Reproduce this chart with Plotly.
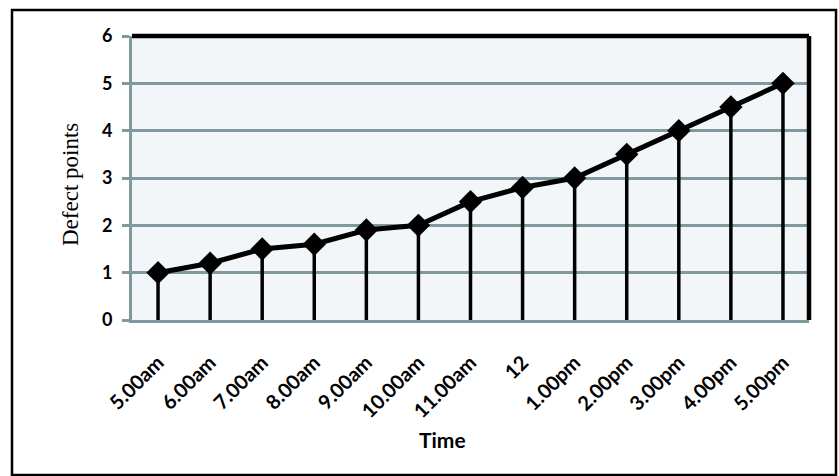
import plotly.graph_objects as go

times = ["5.00am", "6.00am", "7.00am", "8.00am", "9.00am", "10.00am", "11.00am",
         "12", "1.00pm", "2.00pm", "3.00pm", "4.00pm", "5.00pm"]
defects = [1, 1.2, 1.5, 1.6, 1.9, 2, 2.5, 2.8, 3, 3.5, 4, 4.5, 5]
y_ticks = [0, 1, 2, 3, 4, 5, 6]

grid_col = "#7f999e"

fig = go.Figure()
fig.add_trace(go.Scatter(
    x=list(range(len(times))), y=defects, mode="lines+markers",
    line=dict(color="black", width=5),
    marker=dict(symbol="diamond", size=18, color="black"),
    error_y=dict(type="data", symmetric=False, array=[0]*len(defects),
                 arrayminus=defects, color="black", thickness=3.5, width=0),
    showlegend=False,
))

W, H = 839, 476
L, R, T, B = 132, 30, 36, 156
pw, ph = W - L - R, H - T - B

def px(x):
    return (x - L) / pw

def py(y):
    return (H - B - y) / ph

fig.update_layout(
    width=W, height=H,
    margin=dict(l=L, r=R, t=T, b=B),
    paper_bgcolor="white",
    plot_bgcolor="#f2f6f9",
    font=dict(family="Lato", color="black"),
    xaxis=dict(
        range=[-0.5, 12.5], tickmode="array",
        tickvals=list(range(len(times))), ticktext=times,
        tickangle=-45, tickfont=dict(family="Lato", size=20, weight="bold"),
        ticklabelstandoff=20,
        showgrid=False, showline=True, linecolor=grid_col, linewidth=3,
        ticks="", zeroline=False,
    ),
    yaxis=dict(
        range=[0, 6], tickmode="array", tickvals=y_ticks,
        tickfont=dict(family="Lato", size=18, weight="bold"),
        ticklabelstandoff=6,
        showgrid=True, gridcolor=grid_col, gridwidth=3,
        showline=True, linecolor=grid_col, linewidth=3,
        ticks="outside", ticklen=7, tickwidth=3, tickcolor=grid_col,
        zeroline=False,
    ),
    shapes=[
        dict(type="line", xref="paper", yref="paper", x0=0, x1=1.0, y0=1, y1=1,
             line=dict(color="black", width=4.5)),
        dict(type="line", xref="paper", yref="paper", x0=1, x1=1, y0=0, y1=1,
             line=dict(color="black", width=4.5)),
        dict(type="rect", xref="paper", yref="paper",
             x0=px(12), x1=px(836), y0=py(475), y1=py(10),
             line=dict(color="black", width=2.5)),
    ],
    annotations=[
        dict(text="Time", xref="paper", yref="paper", x=px(442), y=py(439),
             showarrow=False, font=dict(family="Lato", size=21, weight="bold"),
             xanchor="center", yanchor="middle"),
        dict(text="Defect points", xref="paper", yref="paper", x=px(70), y=py(185),
             showarrow=False, textangle=-90,
             font=dict(family="Liberation Serif", size=23),
             xanchor="center", yanchor="middle"),
    ],
)

fig.write_html("out.html", config={"displayModeBar": False},
               post_script="document.body.style.margin='0px';")
